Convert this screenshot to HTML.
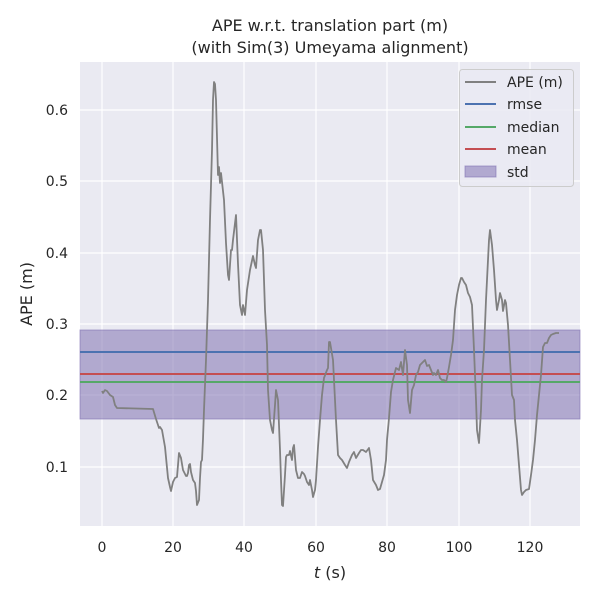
<!DOCTYPE html>
<html><head><style>body{margin:0;background:#fff}svg{font-family:"DejaVu Sans","Liberation Sans",sans-serif}</style></head><body>
<svg width="600" height="600" xmlns="http://www.w3.org/2000/svg">
<rect x="80" y="62" width="500" height="464" fill="#eaeaf2"/>
<g stroke="#fff" stroke-width="1.2">
<line x1="102" y1="62" x2="102" y2="526"/><line x1="173" y1="62" x2="173" y2="526"/><line x1="244" y1="62" x2="244" y2="526"/><line x1="316" y1="62" x2="316" y2="526"/><line x1="387" y1="62" x2="387" y2="526"/><line x1="459" y1="62" x2="459" y2="526"/><line x1="530" y1="62" x2="530" y2="526"/>
<line x1="80" y1="467" x2="580" y2="467"/><line x1="80" y1="395" x2="580" y2="395"/><line x1="80" y1="324" x2="580" y2="324"/><line x1="80" y1="253" x2="580" y2="253"/><line x1="80" y1="181" x2="580" y2="181"/><line x1="80" y1="110" x2="580" y2="110"/>
</g>
<rect x="80" y="330" width="500" height="89" fill="#8172b3" fill-opacity="0.55" stroke="#8172b3" stroke-opacity="0.6"/>
<line x1="80" y1="352" x2="580" y2="352" stroke="#4c72b0" stroke-width="2"/>
<line x1="80" y1="374" x2="580" y2="374" stroke="#c44e52" stroke-width="2"/>
<line x1="80" y1="382" x2="580" y2="382" stroke="#55a868" stroke-width="2"/>
<polyline fill="none" stroke="#808080" stroke-width="1.8" stroke-linejoin="round" points="102,391 103,393 105,390 107,391 110,395 113,397 115,405 117,408 153,409 156,419 159,428 160,427 162,430 165,447 168,478 170,487 171,491 173,482 175,478 177,477 178,465 179,453 181,458 183,470 186,476 187,476 188,473 189,465 190,464 191,472 193,480 195,483 196,491 197,505 199,500 200,478 201,462 202,460 203,439 204,410 206,360 208,300 210,220 212,150 213,100 214,82 215,84 216,100 218,175 219,167 220,183 221,173 224,200 226,243 228,275 229,280 230,265 231,250 232,250 233,240 236,215 238,264 240,305 242,315 243,305 245,315 247,290 250,270 253,256 255,265 256,268 258,240 260,230 261,230 263,250 265,310 267,345 268,390 270,420 272,430 273,433 275,405 276,390 278,400 280,450 281,480 282,505 283,506 285,475 286,457 287,455 289,455 290,451 292,460 293,448 294,445 296,470 298,478 300,478 302,472 304,474 305,476 307,482 309,485 310,480 312,490 313,497 315,490 316,480 318,447 320,420 322,395 324,378 327,370 328,368 329,342 330,342 333,360 336,420 338,455 340,458 342,460 345,465 347,468 349,462 352,455 354,452 356,458 359,453 361,450 363,450 366,452 369,448 371,460 373,480 376,485 378,490 380,489 382,482 384,475 386,460 387,440 389,418 391,392 393,380 396,368 399,370 401,362 403,375 405,350 407,365 408,400 410,413 412,390 414,385 416,375 418,372 420,365 422,363 425,360 427,366 429,365 431,370 433,375 434,373 436,375 438,370 440,378 442,380 444,380 446,382 447,378 449,367 451,355 453,340 455,310 457,295 459,285 461,278 462,278 464,282 466,285 468,293 470,297 472,305 474,350 476,400 477,430 479,443 481,410 482,380 484,350 486,300 488,260 489,240 490,230 492,245 494,270 496,300 497,310 499,300 500,293 502,300 503,311 505,300 506,303 508,325 510,360 512,395 514,400 515,420 517,440 519,465 521,490 522,495 524,492 526,490 529,489 531,475 533,460 535,440 537,415 539,395 541,375 543,347 545,343 547,343 549,338 551,335 553,334 556,333 559,333"/>
<g font-size="14" fill="#262626" text-anchor="end">
<text x="68" y="472">0.1</text><text x="68" y="400">0.2</text><text x="68" y="329">0.3</text><text x="68" y="258">0.4</text><text x="68" y="186">0.5</text><text x="68" y="115">0.6</text>
</g>
<g font-size="14" fill="#262626" text-anchor="middle">
<text x="102" y="552">0</text><text x="173" y="552">20</text><text x="244" y="552">40</text><text x="316" y="552">60</text><text x="387" y="552">80</text><text x="459" y="552">100</text><text x="530" y="552">120</text>
<text x="330" y="578" font-size="16"><tspan font-style="italic">t</tspan> (s)</text>
<text x="330" y="31" font-size="16">APE w.r.t. translation part (m)</text>
<text x="330" y="53" font-size="16">(with Sim(3) Umeyama alignment)</text>
<text transform="translate(32,294) rotate(-90)" font-size="16">APE (m)</text>
</g>
<rect x="459.5" y="69.5" width="114" height="117" rx="3" fill="#eaeaf2" fill-opacity="0.8" stroke="#cccccc"/>
<g stroke-width="2">
<line x1="465" y1="82" x2="496" y2="82" stroke="#808080"/>
<line x1="465" y1="104" x2="496" y2="104" stroke="#4c72b0"/>
<line x1="465" y1="127" x2="496" y2="127" stroke="#55a868"/>
<line x1="465" y1="149" x2="496" y2="149" stroke="#c44e52"/>
</g>
<rect x="465" y="166" width="31" height="11" fill="#8172b3" fill-opacity="0.55" stroke="#8172b3" stroke-opacity="0.6"/>
<g font-size="14" fill="#262626">
<text x="507" y="87">APE (m)</text><text x="507" y="109">rmse</text><text x="507" y="132">median</text><text x="507" y="154">mean</text><text x="507" y="177">std</text>
</g>
</svg>
</body></html>
